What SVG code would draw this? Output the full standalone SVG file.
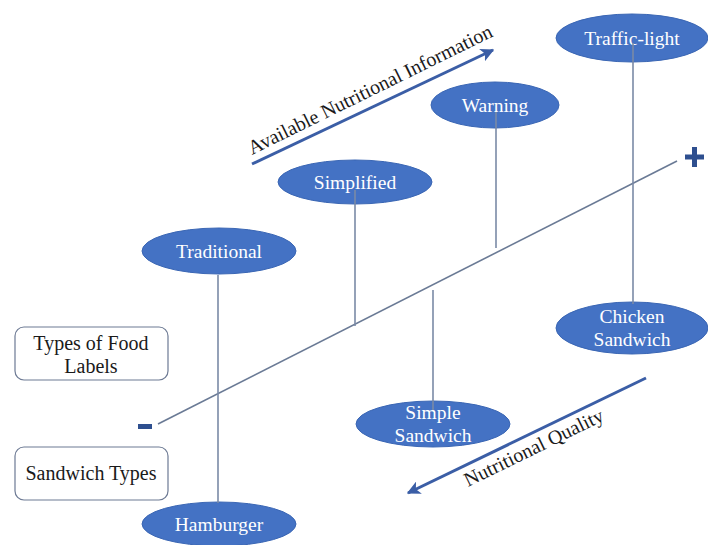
<svg xmlns="http://www.w3.org/2000/svg" width="708" height="545" viewBox="0 0 708 545">
<defs>
<marker id="ah" viewBox="0 0 10 10" refX="9" refY="5" markerWidth="4.5" markerHeight="4.5" orient="auto" markerUnits="strokeWidth">
<path d="M0,0 L10,5 L0,10 L2.5,5 Z" fill="#3b5ea6"/>
</marker>
<style>
.node ellipse{fill:#4472c4;stroke:#3a66b4;stroke-width:1}
.node text{fill:#ffffff;font-family:"Liberation Serif","Times New Roman",serif;font-size:19.5px;text-anchor:middle}
.box rect{fill:#ffffff;stroke:#6d7a94;stroke-width:1.2}
.box text{fill:#1a1a1a;font-family:"Liberation Serif","Times New Roman",serif;font-size:20px;text-anchor:middle}
.vline{stroke:#7a8aa6;stroke-width:1.6;fill:none}
.axis{stroke:#6a7a95;stroke-width:1.6;fill:none}
.arrow{stroke:#3b5ea6;stroke-width:3;fill:none;marker-end:url(#ah)}
.lbl{fill:#1a1a1a;font-family:"Liberation Serif","Times New Roman",serif;font-size:20px}
.sign{fill:#2e4f8f}
</style>
</defs>
<rect width="708" height="545" fill="#ffffff"/>

<g id="n-traffic" class="node"><ellipse cx="632" cy="38" rx="76" ry="24"/><text x="632" y="45">Traffic-light</text></g>
<g id="n-warning" class="node"><ellipse cx="495" cy="105" rx="64" ry="23"/><text x="495" y="112">Warning</text></g>
<g id="n-simplified" class="node"><ellipse cx="355" cy="182" rx="77" ry="22"/><text x="355" y="189">Simplified</text></g>
<g id="n-traditional" class="node"><ellipse cx="219" cy="251" rx="77" ry="23"/><text x="219" y="258">Traditional</text></g>
<g id="n-chicken" class="node"><ellipse cx="632" cy="328" rx="76" ry="26"/><text x="632" y="323">Chicken</text><text x="632" y="346">Sandwich</text></g>
<g id="n-simple" class="node"><ellipse cx="433" cy="424" rx="77" ry="23"/><text x="433" y="419">Simple</text><text x="433" y="442">Sandwich</text></g>
<g id="n-hamburger" class="node"><ellipse cx="219" cy="524" rx="77" ry="22"/><text x="219" y="531">Hamburger</text></g>

<g id="b-labels" class="box"><rect x="15" y="327" width="153" height="53" rx="9"/><text x="91" y="350">Types of Food</text><text x="91" y="373">Labels</text></g>
<g id="b-sandwich" class="box"><rect x="15" y="447" width="153" height="53" rx="9"/><text x="91" y="480">Sandwich Types</text></g>

<g id="connectors">
<line class="axis" x1="158" y1="424" x2="677" y2="161"/>
<line class="vline" x1="633" y1="43" x2="633" y2="304"/>
<line class="vline" x1="496" y1="112" x2="496" y2="248"/>
<line class="vline" x1="355" y1="190" x2="355" y2="326"/>
<line class="vline" x1="218" y1="275" x2="218" y2="503"/>
<line class="vline" x1="433" y1="290" x2="433" y2="410"/>
<line class="arrow" x1="252" y1="164" x2="493" y2="50"/>
<line class="arrow" x1="646" y1="378" x2="408" y2="493"/>
</g>

<g id="signs">
<rect class="sign" x="685" y="154.5" width="19" height="5"/>
<rect class="sign" x="692" y="147" width="5" height="20"/>
<rect class="sign" x="138" y="424" width="14" height="5"/>
</g>

<text class="lbl" transform="translate(252,155) rotate(-26.2)">Available Nutritional Information</text>
<text class="lbl" transform="translate(468,487) rotate(-26)">Nutritional Quality</text>
</svg>
